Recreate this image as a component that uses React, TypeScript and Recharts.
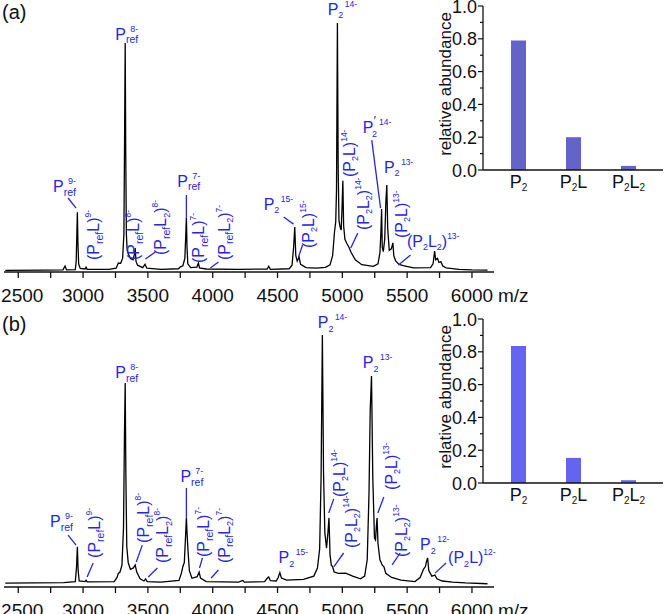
import React from "react";
import {
  LineChart, Line, XAxis, YAxis, ReferenceLine, ReferenceDot, BarChart, Bar,
} from "recharts";

const FONT = "'Liberation Sans', Arial, Helvetica, sans-serif";
const BLUE = "#2626e0";
const INK = "#111";

// [m/z, intensity in % of panel height]
const spectrumA = [
  [2400, 0.6], [2700, 0.7], [2845, 0.8], [2861, 2.2], [2872, 0.8], [2940, 0.9], [2947, 4], [2952, 14],
  [2956, 22], [2960, 11], [2966, 3], [2978, 1.3], [3015, 1.1], [3023, 1.8], [3031, 1.0], [3200, 1.0],
  [3255, 1.4], [3272, 3.3], [3290, 3.2], [3305, 5], [3315, 14], [3321, 55], [3325, 84.2], [3329, 45],
  [3334, 14], [3340, 8], [3350, 6.5], [3365, 5], [3385, 4.5], [3396, 6.5], [3402, 8.8], [3408, 4],
  [3420, 2.5], [3460, 1.6], [3478, 2.8], [3492, 1.4], [3600, 1.0], [3735, 1.2], [3751, 1.9], [3770, 2.3],
  [3785, 5], [3791, 12], [3797, 19.9], [3802, 9], [3808, 3], [3830, 1.6], [3878, 1.8], [3890, 3.3],
  [3898, 1.5], [3950, 1.1], [4200, 1.0], [4420, 1.1], [4432, 2.1], [4445, 1.0], [4590, 1.2], [4612, 2.5],
  [4624, 9], [4633, 16.5], [4641, 6], [4652, 4], [4666, 5.5], [4678, 2.8], [4720, 1.6], [4800, 1.4],
  [4870, 1.7], [4905, 2.6], [4925, 6], [4940, 15], [4949, 18.4], [4955, 30], [4962, 91.5], [4968, 38],
  [4974, 19], [4983, 16.5], [4991, 15.4], [4998, 24], [5004, 33.5], [5010, 17], [5020, 12], [5035, 10.5],
  [5050, 9.2], [5070, 7], [5100, 4.5], [5150, 2.7], [5240, 2.1], [5275, 3], [5290, 7], [5297, 14],
  [5303, 23.2], [5308, 9], [5316, 7.5], [5327, 12], [5336, 26], [5343, 32], [5350, 16], [5362, 8],
  [5378, 8.5], [5390, 10.7], [5397, 6], [5410, 4.2], [5437, 2.8], [5470, 2.3], [5550, 1.5], [5680, 1.6],
  [5700, 3], [5712, 7.7], [5720, 4.5], [5734, 5], [5745, 3.5], [5760, 3.8], [5775, 2.2], [5800, 1.5],
  [5900, 1.0], [6000, 0.8], [6120, 0.7],
];

const spectrumB = [
  [2400, 1.4], [2850, 1.6], [2940, 2], [2949, 7], [2956, 14.8], [2962, 6], [2970, 2.2], [3015, 2],
  [3023, 2.5], [3032, 1.9], [3240, 2], [3262, 3.5], [3272, 5], [3285, 5.5], [3300, 8], [3312, 22],
  [3319, 55], [3325, 75], [3330, 42], [3337, 15], [3348, 9], [3365, 6.5], [3388, 7], [3402, 8.1],
  [3414, 5.5], [3440, 3], [3470, 2.2], [3482, 3], [3495, 2], [3600, 1.8], [3740, 2.4], [3758, 5],
  [3771, 7.7], [3781, 9], [3790, 18], [3797, 25.4], [3803, 19], [3810, 13], [3820, 6], [3840, 3.2],
  [3880, 3.8], [3895, 5.5], [3906, 3.3], [3950, 2], [4200, 1.8], [4232, 2.4], [4245, 1.8], [4400, 2],
  [4425, 3.5], [4432, 3.7], [4445, 2.3], [4490, 2.2], [4505, 3.5], [4518, 5.3], [4530, 3.3], [4570, 2.5],
  [4700, 2.8], [4780, 4], [4808, 7], [4825, 14], [4836, 40], [4846, 92.6], [4855, 42], [4865, 20],
  [4878, 14.3], [4889, 20], [4897, 25.4], [4905, 12], [4915, 8], [4925, 7.4], [4937, 5.5], [4970, 5],
  [5026, 5.1], [5080, 4], [5140, 3], [5172, 4], [5192, 10], [5206, 35], [5215, 65], [5225, 77.6],
  [5235, 40], [5248, 18], [5256, 17.3], [5262, 22], [5268, 25.4], [5275, 16], [5290, 10], [5308, 8],
  [5321, 7.4], [5335, 5], [5380, 3.5], [5452, 2.5], [5560, 2], [5600, 3.5], [5627, 6.6], [5641, 7.5],
  [5650, 9.5], [5658, 10.7], [5667, 6], [5690, 4], [5714, 4.4], [5730, 3], [5770, 2.2], [5850, 1.8],
  [5950, 1.5], [6120, 1.2],
];

const mzTicks = [2500, 2750, 3000, 3250, 3500, 3750, 4000, 4250, 4500, 4750, 5000, 5250, 5500, 5750, 6000];
const abundanceTicks = [0, 0.1, 0.2, 0.3, 0.4, 0.5, 0.6, 0.7, 0.8, 0.9, 1.0];

const species = ["P2", "P2L", "P2L2"];
const abundanceA = [0.79, 0.2, 0.025];
const abundanceB = [0.835, 0.153, 0.017];

type Part = { t: string; k?: "b" | "p"; dx?: number; fs?: number };

const pref = (z: string): Part[] => [{ t: "P" }, { t: "ref", k: "b" }, { t: z, k: "p", dx: -8, fs: 9 }];
const p2 = (z: string): Part[] => [{ t: "P" }, { t: "2", k: "b", fs: 9 }, { t: z, k: "p", dx: 1.5 }];
const p2prime = (z: string): Part[] => [
  { t: "P" }, { t: "′", k: "p", fs: 13 }, { t: "2", k: "b", dx: -4, fs: 9 }, { t: z, k: "p", dx: 2 },
];
const cplx = (core: string, l2: boolean, z: string): Part[] => [
  { t: "(P" }, { t: core, k: "b", fs: core === "2" ? 9 : 10.5 }, { t: "L" },
  ...(l2 ? [{ t: "2", k: "b" as const, fs: 9 }] : []),
  { t: ")" }, { t: z, k: "p" },
];

// label anchor: left end of baseline (vertical labels read bottom-up)
const labelsA = [
  { x: 2768, y: 29.4, parts: pref("9-") },
  { x: 3248, y: 85.3, parts: pref("8-") },
  { x: 3727, y: 31.3, parts: pref("7-") },
  { x: 4393, y: 22.8, parts: p2("15-") },
  { x: 4887, y: 94.5, parts: p2("14-") },
  { x: 5158, y: 51.1, parts: p2prime("14-") },
  { x: 5321, y: 36.4, parts: p2("13-") },
  { x: 5498, y: 9.2, parts: cplx("2", true, "13-") },
  { x: 3124, y: 4.4, v: true, parts: cplx("ref", false, "9-") },
  { x: 3433, y: 4.4, v: true, parts: cplx("ref", false, "8-") },
  { x: 3642, y: 6.25, v: true, parts: cplx("ref", true, "8-") },
  { x: 3936, y: 3.3, v: true, parts: cplx("ref", false, "7-") },
  { x: 4130, y: 4.4, v: true, parts: cplx("ref", true, "7-") },
  { x: 4779, y: 8.8, v: true, parts: cplx("2", false, "15-") },
  { x: 5096, y: 34.9, v: true, parts: cplx("2", false, "14-") },
  { x: 5205, y: 15.4, v: true, parts: cplx("2", true, "14-") },
  { x: 5498, y: 12.5, v: true, parts: cplx("2", false, "13-") },
];

const leadersA = [
  [2884, 27.2, 2946, 23.5], [3481, 4.8, 3558, 7.35], [3797, 28.3, 3797, 19.9],
  [3982, 1.5, 4044, 3.7], [4547, 20.2, 4624, 17.6], [4662, 5.5, 4693, 9.9],
  [5065, 8.8, 5119, 14.3], [5227, 48.5, 5295, 23.5], [5433, 2.6, 5526, 6.25],
];

const labelsB = [
  { x: 2745, y: 22, parts: pref("9-") },
  { x: 3248, y: 76.8, parts: pref("8-") },
  { x: 3751, y: 38.6, parts: pref("7-") },
  { x: 4508, y: 8.8, parts: p2("15-") },
  { x: 4810, y: 95.2, parts: p2("14-") },
  { x: 5158, y: 80.5, parts: p2("13-") },
  { x: 5599, y: 13.6, parts: p2("12-") },
  { x: 5816, y: 8.8, parts: cplx("2", false, "12-") },
  { x: 3132, y: 10.7, v: true, parts: cplx("ref", false, "9-") },
  { x: 3511, y: 16.2, v: true, parts: cplx("ref", false, "8-") },
  { x: 3658, y: 8.8, v: true, parts: cplx("ref", true, "8-") },
  { x: 3975, y: 11, v: true, parts: cplx("ref", false, "7-") },
  { x: 4130, y: 8.8, v: true, parts: cplx("ref", true, "7-") },
  { x: 5019, y: 33.1, v: true, parts: cplx("2", false, "14-") },
  { x: 5112, y: 14.3, v: true, parts: cplx("2", true, "14-") },
  { x: 5420, y: 35.7, v: true, parts: cplx("2", false, "13-") },
  { x: 5498, y: 11, v: true, parts: cplx("2", true, "13-") },
];

const leadersB = [
  [2884, 19.1, 2946, 15.4], [3031, 3.7, 3078, 8.8], [3410, 9.2, 3457, 15.4],
  [3503, 3.7, 3573, 7], [3797, 36.4, 3797, 25.4], [3898, 7, 3921, 10.7],
  [3988, 3.3, 4044, 6.25], [4895, 27.2, 4934, 32.4], [4934, 7.4, 5010, 12.5],
  [5274, 27.2, 5320, 33.1], [5384, 8.1, 5446, 12.5], [5715, 5.1, 5800, 8.8],
];

function Formula({ x, y, parts, vertical }: { x: number; y: number; parts: Part[]; vertical?: boolean }) {
  let prev = 0;
  return (
    <text
      x={x}
      y={y}
      transform={vertical ? `rotate(-90 ${x} ${y})` : undefined}
      fill={BLUE}
      fontSize={16}
      fontFamily={FONT}
    >
      {parts.map((p, i) => {
        const s = p.k === "b" ? 3.5 : p.k === "p" ? -8 : 0;
        const dy = s - prev;
        prev = s;
        const fs = p.fs ?? (p.k === "b" ? 10.5 : p.k === "p" ? 8.5 : 16);
        return (
          <tspan key={i} dy={dy} dx={p.dx ?? 0} fontSize={fs}>{p.t}</tspan>
        );
      })}
    </text>
  );
}

function MzTick({ x, y, payload }: any) {
  if (payload.value % 500 !== 0) return <g />;
  // first label nudged right so it stays inside the frame
  const nx = payload.value === 2500 ? x + 4 : x;
  return (
    <text x={nx} y={y + 24} textAnchor="middle" fontSize={19} fontFamily={FONT} fill={INK}>
      {payload.value}
    </text>
  );
}

function AbundanceTick({ x, y, payload }: any) {
  const v = payload.value;
  const major = Math.round(v * 10) % 2 === 0;
  return (
    <g>
      <line x1={x - (major ? 5 : 3)} x2={x} y1={y} y2={y} stroke={INK} strokeWidth={1.2} />
      {major && (
        <text x={x - 6} y={y + 6.5} textAnchor="end" fontSize={18} fontFamily={FONT} fill={INK}>
          {v.toFixed(1)}
        </text>
      )}
    </g>
  );
}

function SpeciesTick({ x, y, payload }: any) {
  const chars = String(payload.value).split("");
  let prev = 0;
  return (
    <text x={x} y={y + 18} textAnchor="middle" fontSize={18} fontFamily={FONT} fill={INK}>
      {chars.map((c, i) => {
        const sub = /\d/.test(c);
        const s = sub ? 3 : 0;
        const dy = s - prev;
        prev = s;
        return <tspan key={i} dy={dy} fontSize={sub ? 10 : 18}>{c}</tspan>;
      })}
    </text>
  );
}

function Spectrum({ points, labels, leaders }: { points: number[][]; labels: any[]; leaders: number[][] }) {
  const data = points.map(([mz, i]) => ({ mz, i }));
  return (
    <LineChart width={665} height={317} data={data} margin={{ top: 10, right: 171, bottom: 0, left: 4 }}>
      <XAxis
        dataKey="mz"
        type="number"
        domain={[2390, 6170]}
        ticks={mzTicks}
        interval={0}
        allowDataOverflow
        height={35}
        tickSize={6}
        tickMargin={0}
        stroke={INK}
        strokeWidth={1.3}
        tick={<MzTick />}
        label={{
          content: ({ viewBox }: any) => (
            <text x={viewBox.x + viewBox.width + 4} y={viewBox.y + 30} fontSize={19} fontFamily={FONT} fill={INK}>
              m/z
            </text>
          ),
        }}
      />
      <YAxis hide type="number" domain={[0, 100]} />
      <Line dataKey="i" type="linear" stroke="#000" strokeWidth={1.3} dot={false} isAnimationActive={false} />
      {leaders.map(([x1, y1, x2, y2], k) => (
        <ReferenceLine
          key={`l${k}`}
          segment={[{ x: x1, y: y1 }, { x: x2, y: y2 }]}
          stroke={BLUE}
          strokeWidth={1.3}
          ifOverflow="visible"
        />
      ))}
      {labels.map((l, k) => (
        <ReferenceDot
          key={`t${k}`}
          x={l.x}
          y={l.y}
          ifOverflow="visible"
          shape={(p: any) => <Formula x={p.cx} y={p.cy} parts={l.parts} vertical={l.v} />}
        />
      ))}
    </LineChart>
  );
}

function Inset({ values, color }: { values: number[]; color: string }) {
  const data = species.map((name, i) => ({ name, v: values[i] }));
  return (
    <BarChart width={264} height={200} data={data} margin={{ top: 6, right: 2, bottom: 0, left: 0 }}>
      <XAxis
        dataKey="name"
        height={30}
        padding={{ left: 8, right: 7 }}
        tickLine={false}
        tickSize={0}
        tickMargin={0}
        interval={0}
        stroke={INK}
        strokeWidth={1.3}
        tick={<SpeciesTick />}
      />
      <XAxis xAxisId="top" dataKey="name" orientation="top" height={0} tick={false} tickLine={false} stroke={INK} strokeWidth={1.3} />
      <YAxis
        type="number"
        domain={[0, 1]}
        ticks={abundanceTicks}
        interval={0}
        width={82}
        tickLine={false}
        tickSize={0}
        tickMargin={0}
        stroke={INK}
        strokeWidth={1.3}
        tick={<AbundanceTick />}
        label={{
          content: () => (
            <text x={50} y={84} transform="rotate(-90 50 84)" textAnchor="middle" fontSize={17} fontFamily={FONT} fill={INK}>
              relative abundance
            </text>
          ),
        }}
      />
      <YAxis yAxisId="right" orientation="right" width={0} tick={false} tickLine={false} stroke={INK} strokeWidth={1.3} />
      <Bar dataKey="v" fill={color} barSize={15} isAnimationActive={false} />
    </BarChart>
  );
}

export default function App() {
  const panelLabel = { position: "absolute" as const, left: 2, fontSize: 20, fontFamily: FONT, color: INK, lineHeight: "20px" };
  return (
    <div style={{ position: "absolute", left: 0, top: 0, width: 665, height: 614, overflow: "hidden", background: "#fff" }}>
      <div style={{ position: "absolute", left: 0, top: -10 }}>
        <Spectrum points={spectrumA} labels={labelsA} leaders={leadersA} />
      </div>
      <div style={{ position: "absolute", left: 0, top: 305 }}>
        <Spectrum points={spectrumB} labels={labelsB} leaders={leadersB} />
      </div>
      <div style={{ position: "absolute", left: 401, top: 0 }}>
        <Inset values={abundanceA} color="#6464c8" />
      </div>
      <div style={{ position: "absolute", left: 401, top: 313 }}>
        <Inset values={abundanceB} color="#6464f0" />
      </div>
      <div style={{ ...panelLabel, top: 2 }}>(a)</div>
      <div style={{ ...panelLabel, top: 314 }}>(b)</div>
    </div>
  );
}
